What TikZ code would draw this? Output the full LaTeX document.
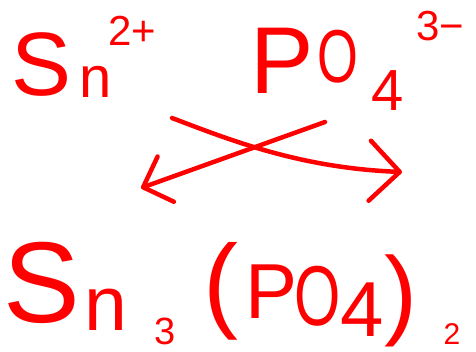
\documentclass[tikz,border=0pt]{standalone}
\usepackage{fontspec}
\setmainfont{Liberation Sans}
\usetikzlibrary{arrows.meta}
\definecolor{ink}{HTML}{FF0000}
\newcommand{\fs}[1]{\fontsize{#1}{#1}\selectfont}

\begin{document}
\begin{tikzpicture}[x=1pt,y=-1pt,
  glyph/.style={ink,inner sep=0pt,anchor=base},
  swap/.style={ink,line width=4.5pt,line cap=round,line join=round}]
  \useasboundingbox (0,0) rectangle (476,351);

  % Cation
  \node[glyph] (sn) at (42,95) {\fs{90}S};
  \node[glyph] (snn) at (96,97) {\fs{58}n};
  \node[glyph] (snq) at (132,45) {\fs{42}2+};

  % Anion
  \node[glyph] (po) at (282,93) {\fs{95}P};
  \node[glyph] (poo) at (338,82) {\scalebox{0.7}[1]{\fs{75}O}};
  \node[glyph] (pof) at (388,110) {\fs{58}4};
  \node[glyph] (poq) at (440,40) {\fs{42}3−};

  % Crossing the charges
  \coordinate (qa) at (325,122);
  \coordinate (qb) at (141,188);
  \coordinate (qc) at (172,118);
  \coordinate (qd) at (402,172);
  \draw[swap,-{Straight Barb[length=24pt,width=48pt,round]}] (qa) -- (qb);
  \draw[swap,-{Straight Barb[length=30pt,width=60pt,round]}] (qc) .. controls (230,140) and (300,168) .. (qd);

  % Formula
  \node[glyph] (fs) at (42,322) {\fs{115}S};
  \node[glyph] (fn) at (106,330) {\fs{77}n};
  \node[glyph] (fx) at (165,344) {\fs{38}3};
  \node[glyph] (fl) at (221,318) {\fs{105}(};
  \node[glyph] (fp) at (272,318) {\fs{78}P};
  \node[glyph] (fo) at (318,325) {\scalebox{0.7}[1]{\fs{85}O}};
  \node[glyph] (ff) at (362,336) {\fs{78}4};
  \node[glyph] (fr) at (401,326) {\fs{99})};
  \node[glyph] (fy) at (452,344) {\fs{30}2};
\end{tikzpicture}
\end{document}
